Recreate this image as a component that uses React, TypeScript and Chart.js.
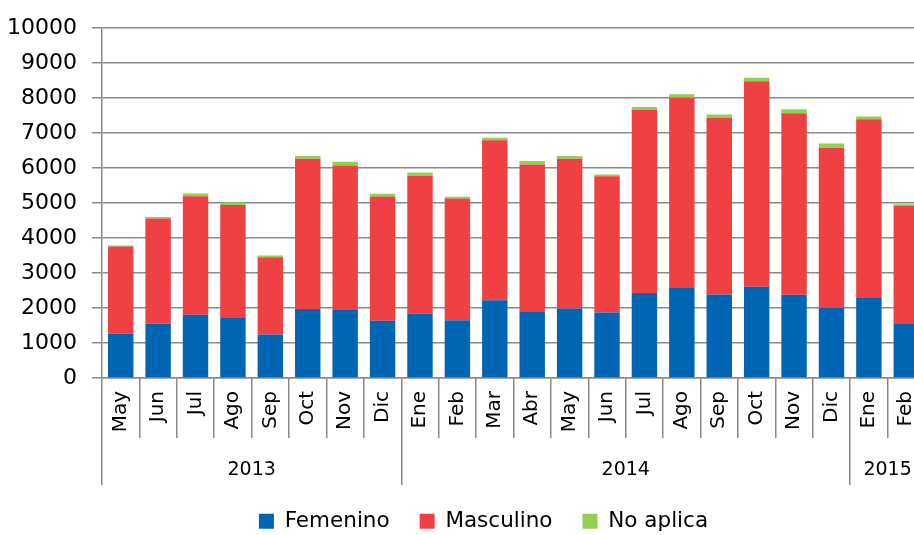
import { useEffect, useRef } from 'react';
import { Chart, registerables } from 'chart.js';

Chart.register(...registerables);

const months = ['May', 'Jun', 'Jul', 'Ago', 'Sep', 'Oct', 'Nov', 'Dic', 'Ene', 'Feb', 'Mar', 'Abr', 'May', 'Jun', 'Jul', 'Ago', 'Sep', 'Oct', 'Nov', 'Dic', 'Ene', 'Feb'];
const yearLabels = ['2013', '2014', '2015'];
const yearSpans = [8, 12, 2];

const femenino = [1270, 1560, 1810, 1740, 1240, 1970, 1945, 1640, 1840, 1650, 2220, 1890, 1990, 1870, 2430, 2570, 2390, 2610, 2380, 2000, 2290, 1565];
const masculino = [2490, 3000, 3385, 3205, 2210, 4300, 4130, 3550, 3945, 3480, 4575, 4215, 4280, 3895, 5230, 5440, 5040, 5870, 5190, 4575, 5110, 3350];
const noAplica = [30, 40, 80, 75, 50, 80, 110, 75, 90, 55, 75, 100, 75, 55, 90, 100, 100, 100, 110, 130, 75, 55];

const yMin = 0;
const yMax = 10000;
const yStep = 1000;

const FONT = "'DejaVu Sans', sans-serif";
const GRID = '#8a8a8a';

export default function App() {
  const ref = useRef<HTMLCanvasElement>(null);

  useEffect(() => {
    const boundaries: number[] = [0];
    yearSpans.forEach((s) => boundaries.push(boundaries[boundaries.length - 1] + s));
    const centers = yearSpans.map((s, i) => boundaries[i] + s / 2);

    const chart = new Chart(ref.current as HTMLCanvasElement, {
      type: 'bar',
      data: {
        labels: months,
        datasets: [
          { label: 'Femenino', data: femenino, backgroundColor: '#0066B3' },
          { label: 'Masculino', data: masculino, backgroundColor: '#EF4043' },
          { label: 'No aplica', data: noAplica, backgroundColor: '#92D050' },
        ],
      },
      options: {
        animation: false,
        responsive: false,
        devicePixelRatio: 1,
        layout: { padding: { left: 0, right: 0, top: 16, bottom: 0 } },
        datasets: { bar: { barPercentage: 0.68, categoryPercentage: 1 } },
        plugins: {
          legend: {
            position: 'bottom',
            labels: {
              boxWidth: 15,
              boxHeight: 15,
              padding: 30,
              color: '#000',
              font: { family: FONT, size: 21.5 },
            },
          },
          tooltip: { enabled: false },
        },
        scales: {
          x: {
            stacked: true,
            offset: true,
            grid: { offset: true, drawOnChartArea: false, drawTicks: true, tickLength: 60, color: GRID, lineWidth: 1.5 },
            border: { color: GRID, width: 1.5 },
            ticks: {
              autoSkip: false,
              minRotation: 90,
              maxRotation: 90,
              padding: -47,
              color: '#000',
              font: { family: FONT, size: 20 },
            },
            afterFit: (s: any) => {
              s.height = 60;
            },
          },
          x2: {
            type: 'linear',
            position: 'bottom',
            offset: false,
            min: 0,
            max: boundaries[boundaries.length - 1],
            grid: {
              offset: false,
              drawOnChartArea: false,
              tickLength: 47,
              lineWidth: 1.5,
              color: (c: any) => (c.tick && boundaries.includes(c.tick.value) ? GRID : 'rgba(0,0,0,0)'),
            },
            border: { display: false },
            ticks: {
              autoSkip: false,
              maxRotation: 0,
              padding: -26,
              color: '#000',
              font: { family: FONT, size: 19 },
              callback: (v: any) => {
                const i = centers.indexOf(Number(v));
                return i >= 0 ? yearLabels[i] : '';
              },
            },
            afterBuildTicks: (s: any) => {
              s.ticks = [...boundaries, ...centers].sort((a, b) => a - b).map((v) => ({ value: v }));
            },
            afterFit: (s: any) => {
              s.height = 42.5;
            },
          },
          y: {
            stacked: true,
            min: yMin,
            max: yMax,
            ticks: {
              stepSize: yStep,
              padding: 15,
              color: '#000',
              font: { family: FONT, size: 22 },
              callback: (v: any) => String(v),
            },
            grid: { color: GRID, lineWidth: 1.5, tickLength: 10 },
            border: { color: GRID, width: 1.5 },
            afterFit: (s: any) => {
              s.width = 102;
            },
          },
          yRightSpace: {
            type: 'linear',
            position: 'right',
            display: true,
            grid: { display: false, drawTicks: false },
            border: { display: false },
            ticks: { display: false },
            afterFit: (s: any) => {
              s.width = 42;
            },
          },
        },
      } as any,
    });
    return () => chart.destroy();
  }, []);

  return (
    <div style={{ position: 'absolute', left: 0, top: 0, width: 914, height: 535, overflow: 'hidden', background: '#fff' }}>
      <canvas ref={ref} width={967} height={542} style={{ width: 967, height: 542, display: 'block' }} />
    </div>
  );
}
